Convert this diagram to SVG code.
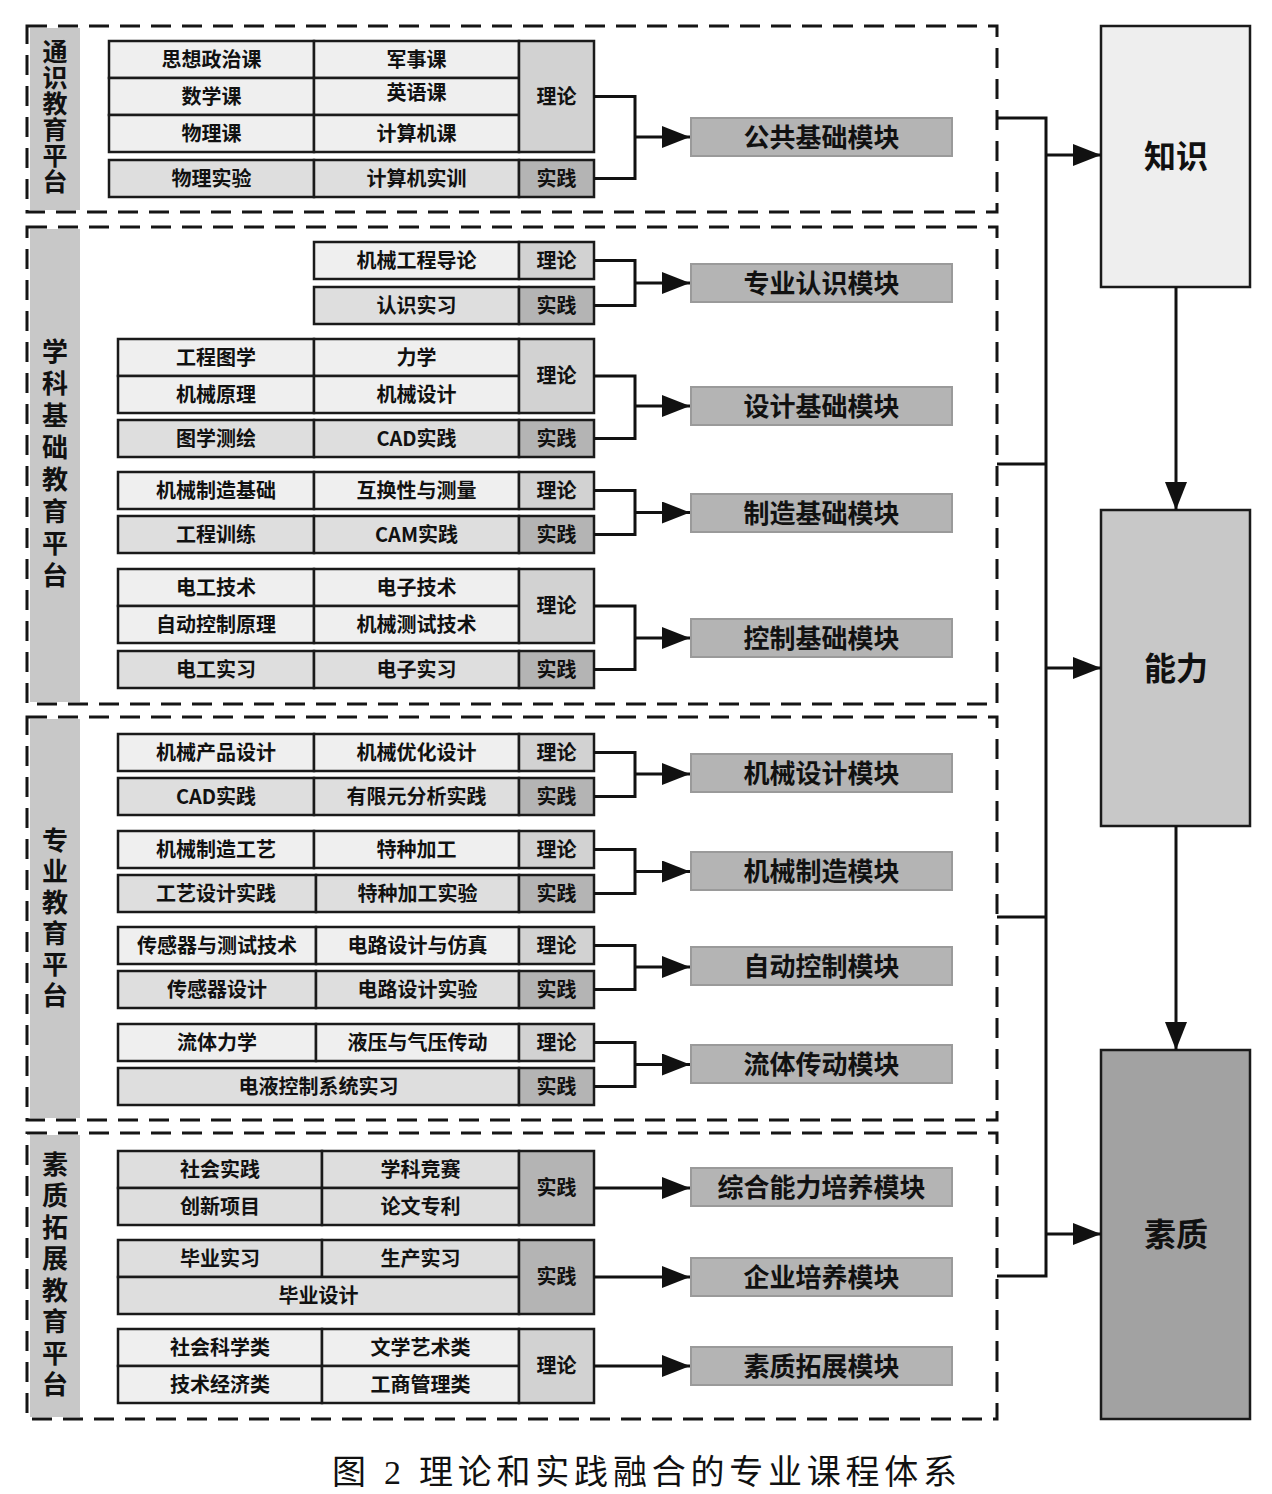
<svg xmlns="http://www.w3.org/2000/svg" width="1272" height="1494" viewBox="0 0 1272 1494">
<defs>
<style>
.bg{fill:#ffffff}
.dash{fill:none;stroke:#151515;stroke-width:3;stroke-dasharray:20 11}
.strip{fill:#c8c8c8}
.ct{fill:#efefef;stroke:#1a1a1a;stroke-width:2.5}
.cp{fill:#dedede;stroke:#1a1a1a;stroke-width:2.5}
.tt{fill:#d2d2d2;stroke:#1a1a1a;stroke-width:2.5}
.tp{fill:#b4b4b4;stroke:#1a1a1a;stroke-width:2.5}
.mod{fill:#b4b4b4;stroke:#9a9a9a;stroke-width:2}
.k1{fill:#eeeeee;stroke:#1a1a1a;stroke-width:2.5}
.k2{fill:#c8c8c8;stroke:#1a1a1a;stroke-width:2.5}
.k3{fill:#a2a2a2;stroke:#1a1a1a;stroke-width:2.5}
text{font-family:"Noto Sans CJK SC","Noto Sans",sans-serif;font-weight:bold;fill:#111;text-anchor:middle;dominant-baseline:central}
.c{font-size:20px}
.m{font-size:26px}
.v{font-size:26px;writing-mode:vertical-rl}
.v1{font-size:25px;writing-mode:vertical-rl}
.b{font-size:32px}
.cap{font-family:"Liberation Serif","Noto Sans CJK SC",serif;font-weight:normal;font-size:34px;dominant-baseline:alphabetic;text-anchor:start}
.ln{fill:none;stroke:#111;stroke-width:3}
</style>
<marker id="ah" markerUnits="userSpaceOnUse" markerWidth="28" markerHeight="22" refX="28" refY="11" orient="auto">
<path d="M0,0 L28,11 L0,22 z" fill="#111"/>
</marker>
</defs>
<rect class="bg" x="0" y="0" width="1272" height="1494"/>

<!-- platforms -->
<g id="platform-tongshi">
<rect class="strip" x="30" y="28" width="50" height="182"/>
<rect class="dash" x="27" y="26" width="970" height="186"/>
<text class="v1" x="55" y="117" letter-spacing="1">通识教育平台</text>
</g>
<g id="platform-xueke">
<rect class="strip" x="30" y="229" width="50" height="473"/>
<rect class="dash" x="27" y="227" width="970" height="477"/>
<text class="v" x="55" y="466" letter-spacing="6">学科基础教育平台</text>
</g>
<g id="platform-zhuanye">
<rect class="strip" x="30" y="719" width="50" height="399"/>
<rect class="dash" x="27" y="717" width="970" height="403"/>
<text class="v" x="55" y="920" letter-spacing="5">专业教育平台</text>
</g>
<g id="platform-suzhi">
<rect class="strip" x="30" y="1135" width="50" height="282"/>
<rect class="dash" x="27" y="1133" width="970" height="286"/>
<text class="v" x="55" y="1277" letter-spacing="5.5">素质拓展教育平台</text>
</g>

<!-- course tables -->
<g id="tbl-gonggong">
<rect class="ct" x="109" y="41" width="205" height="37"/><rect class="ct" x="314" y="41" width="205" height="37"/>
<rect class="ct" x="109" y="78" width="205" height="37"/><rect class="ct" x="314" y="78" width="205" height="37"/>
<rect class="ct" x="109" y="115" width="205" height="37"/><rect class="ct" x="314" y="115" width="205" height="37"/>
<rect class="tt" x="519" y="41" width="75" height="111"/>
<rect class="cp" x="109" y="160" width="205" height="37"/><rect class="cp" x="314" y="160" width="205" height="37"/>
<rect class="tp" x="519" y="160" width="75" height="37"/>
<text class="c" x="211.5" y="58">思想政治课</text><text class="c" x="416.5" y="58">军事课</text>
<text class="c" x="211.5" y="95">数学课</text><text class="c" x="416.5" y="91">英语课</text>
<text class="c" x="211.5" y="132">物理课</text><text class="c" x="416.5" y="132">计算机课</text>
<text class="c" x="556.5" y="95">理论</text>
<text class="c" x="211.5" y="177">物理实验</text><text class="c" x="416.5" y="177">计算机实训</text>
<text class="c" x="556.5" y="177">实践</text>
</g>

<g id="tbl-renshi">
<rect class="ct" x="314" y="242" width="205" height="37"/><rect class="tt" x="519" y="242" width="75" height="37"/>
<rect class="cp" x="314" y="287" width="205" height="37"/><rect class="tp" x="519" y="287" width="75" height="37"/>
<text class="c" x="416.5" y="259">机械工程导论</text><text class="c" x="556.5" y="259">理论</text>
<text class="c" x="416.5" y="304">认识实习</text><text class="c" x="556.5" y="304">实践</text>
</g>

<g id="tbl-sheji">
<rect class="ct" x="118" y="339" width="196" height="37"/><rect class="ct" x="314" y="339" width="205" height="37"/>
<rect class="ct" x="118" y="376" width="196" height="37"/><rect class="ct" x="314" y="376" width="205" height="37"/>
<rect class="tt" x="519" y="339" width="75" height="74"/>
<rect class="cp" x="118" y="420" width="196" height="37"/><rect class="cp" x="314" y="420" width="205" height="37"/>
<rect class="tp" x="519" y="420" width="75" height="37"/>
<text class="c" x="216" y="356">工程图学</text><text class="c" x="416.5" y="356">力学</text>
<text class="c" x="216" y="393">机械原理</text><text class="c" x="416.5" y="393">机械设计</text>
<text class="c" x="556.5" y="374.5">理论</text>
<text class="c" x="216" y="437">图学测绘</text><text class="c" x="416.5" y="437">CAD实践</text>
<text class="c" x="556.5" y="437">实践</text>
</g>

<g id="tbl-zhizao">
<rect class="ct" x="118" y="472" width="196" height="37"/><rect class="ct" x="314" y="472" width="205" height="37"/>
<rect class="tt" x="519" y="472" width="75" height="37"/>
<rect class="cp" x="118" y="516" width="196" height="37"/><rect class="cp" x="314" y="516" width="205" height="37"/>
<rect class="tp" x="519" y="516" width="75" height="37"/>
<text class="c" x="216" y="489">机械制造基础</text><text class="c" x="416.5" y="489">互换性与测量</text><text class="c" x="556.5" y="489">理论</text>
<text class="c" x="216" y="533">工程训练</text><text class="c" x="416.5" y="533">CAM实践</text><text class="c" x="556.5" y="533">实践</text>
</g>

<g id="tbl-kongzhi">
<rect class="ct" x="118" y="569" width="196" height="37"/><rect class="ct" x="314" y="569" width="205" height="37"/>
<rect class="ct" x="118" y="606" width="196" height="37"/><rect class="ct" x="314" y="606" width="205" height="37"/>
<rect class="tt" x="519" y="569" width="75" height="74"/>
<rect class="cp" x="118" y="651" width="196" height="37"/><rect class="cp" x="314" y="651" width="205" height="37"/>
<rect class="tp" x="519" y="651" width="75" height="37"/>
<text class="c" x="216" y="586">电工技术</text><text class="c" x="416.5" y="586">电子技术</text>
<text class="c" x="216" y="623">自动控制原理</text><text class="c" x="416.5" y="623">机械测试技术</text>
<text class="c" x="556.5" y="604.5">理论</text>
<text class="c" x="216" y="668">电工实习</text><text class="c" x="416.5" y="668">电子实习</text>
<text class="c" x="556.5" y="668">实践</text>
</g>

<g id="tbl-jxsheji">
<rect class="ct" x="118" y="734" width="196" height="37"/><rect class="ct" x="314" y="734" width="205" height="37"/>
<rect class="tt" x="519" y="734" width="75" height="37"/>
<rect class="cp" x="118" y="778" width="196" height="37"/><rect class="cp" x="314" y="778" width="205" height="37"/>
<rect class="tp" x="519" y="778" width="75" height="37"/>
<text class="c" x="216" y="751">机械产品设计</text><text class="c" x="416.5" y="751">机械优化设计</text><text class="c" x="556.5" y="751">理论</text>
<text class="c" x="216" y="795">CAD实践</text><text class="c" x="416.5" y="795">有限元分析实践</text><text class="c" x="556.5" y="795">实践</text>
</g>

<g id="tbl-jxzhizao">
<rect class="ct" x="118" y="831" width="196" height="37"/><rect class="ct" x="314" y="831" width="205" height="37"/>
<rect class="tt" x="519" y="831" width="75" height="37"/>
<rect class="cp" x="118" y="875" width="198" height="37"/><rect class="cp" x="316" y="875" width="203" height="37"/>
<rect class="tp" x="519" y="875" width="75" height="37"/>
<text class="c" x="216" y="848">机械制造工艺</text><text class="c" x="416.5" y="848">特种加工</text><text class="c" x="556.5" y="848">理论</text>
<text class="c" x="216" y="892">工艺设计实践</text><text class="c" x="417.5" y="892">特种加工实验</text><text class="c" x="556.5" y="892">实践</text>
</g>

<g id="tbl-zidong">
<rect class="ct" x="118" y="927" width="198" height="37"/><rect class="ct" x="316" y="927" width="203" height="37"/>
<rect class="tt" x="519" y="927" width="75" height="37"/>
<rect class="cp" x="118" y="971" width="198" height="37"/><rect class="cp" x="316" y="971" width="203" height="37"/>
<rect class="tp" x="519" y="971" width="75" height="37"/>
<text class="c" x="217" y="944">传感器与测试技术</text><text class="c" x="417.5" y="944">电路设计与仿真</text><text class="c" x="556.5" y="944">理论</text>
<text class="c" x="217" y="988">传感器设计</text><text class="c" x="417.5" y="988">电路设计实验</text><text class="c" x="556.5" y="988">实践</text>
</g>

<g id="tbl-liuti">
<rect class="ct" x="118" y="1024" width="198" height="37"/><rect class="ct" x="316" y="1024" width="203" height="37"/>
<rect class="tt" x="519" y="1024" width="75" height="37"/>
<rect class="cp" x="118" y="1068" width="401" height="37"/>
<rect class="tp" x="519" y="1068" width="75" height="37"/>
<text class="c" x="217" y="1041">流体力学</text><text class="c" x="417.5" y="1041">液压与气压传动</text><text class="c" x="556.5" y="1041">理论</text>
<text class="c" x="318.5" y="1085">电液控制系统实习</text><text class="c" x="556.5" y="1085">实践</text>
</g>

<g id="tbl-zonghe">
<rect class="cp" x="118" y="1151" width="204" height="37"/><rect class="cp" x="322" y="1151" width="197" height="37"/>
<rect class="cp" x="118" y="1188" width="204" height="37"/><rect class="cp" x="322" y="1188" width="197" height="37"/>
<rect class="tp" x="519" y="1151" width="75" height="74"/>
<text class="c" x="220" y="1168">社会实践</text><text class="c" x="420.5" y="1168">学科竞赛</text>
<text class="c" x="220" y="1205">创新项目</text><text class="c" x="420.5" y="1205">论文专利</text>
<text class="c" x="556.5" y="1186.5">实践</text>
</g>

<g id="tbl-qiye">
<rect class="cp" x="118" y="1240" width="204" height="37"/><rect class="cp" x="322" y="1240" width="197" height="37"/>
<rect class="cp" x="118" y="1277" width="401" height="37"/>
<rect class="tp" x="519" y="1240" width="75" height="74"/>
<text class="c" x="220" y="1257">毕业实习</text><text class="c" x="420.5" y="1257">生产实习</text>
<text class="c" x="318.5" y="1294">毕业设计</text>
<text class="c" x="556.5" y="1275.5">实践</text>
</g>

<g id="tbl-tuozhan">
<rect class="ct" x="118" y="1329" width="204" height="37"/><rect class="ct" x="322" y="1329" width="197" height="37"/>
<rect class="ct" x="118" y="1366" width="204" height="37"/><rect class="ct" x="322" y="1366" width="197" height="37"/>
<rect class="tt" x="519" y="1329" width="75" height="74"/>
<text class="c" x="220" y="1346">社会科学类</text><text class="c" x="420.5" y="1346">文学艺术类</text>
<text class="c" x="220" y="1383">技术经济类</text><text class="c" x="420.5" y="1383">工商管理类</text>
<text class="c" x="556.5" y="1364.5">理论</text>
</g>

<!-- modules -->
<g id="mod-gonggong"><rect class="mod" x="691" y="118" width="261" height="38"/><text class="m" x="821.5" y="135">公共基础模块</text></g>
<g id="mod-renshi"><rect class="mod" x="691" y="264" width="261" height="38"/><text class="m" x="821.5" y="281">专业认识模块</text></g>
<g id="mod-sheji"><rect class="mod" x="691" y="387" width="261" height="38"/><text class="m" x="821.5" y="404">设计基础模块</text></g>
<g id="mod-zhizao"><rect class="mod" x="691" y="494" width="261" height="38"/><text class="m" x="821.5" y="511">制造基础模块</text></g>
<g id="mod-kongzhi"><rect class="mod" x="691" y="619" width="261" height="38"/><text class="m" x="821.5" y="636">控制基础模块</text></g>
<g id="mod-jxsheji"><rect class="mod" x="691" y="754" width="261" height="38"/><text class="m" x="821.5" y="771">机械设计模块</text></g>
<g id="mod-jxzhizao"><rect class="mod" x="691" y="852" width="261" height="38"/><text class="m" x="821.5" y="869">机械制造模块</text></g>
<g id="mod-zidong"><rect class="mod" x="691" y="947" width="261" height="38"/><text class="m" x="821.5" y="964">自动控制模块</text></g>
<g id="mod-liuti"><rect class="mod" x="691" y="1045" width="261" height="38"/><text class="m" x="821.5" y="1062">流体传动模块</text></g>
<g id="mod-zonghe"><rect class="mod" x="691" y="1168" width="261" height="38"/><text class="m" x="821.5" y="1185">综合能力培养模块</text></g>
<g id="mod-qiye"><rect class="mod" x="691" y="1258" width="261" height="38"/><text class="m" x="821.5" y="1275">企业培养模块</text></g>
<g id="mod-tuozhan"><rect class="mod" x="691" y="1347" width="261" height="38"/><text class="m" x="821.5" y="1364">素质拓展模块</text></g>

<!-- outcome boxes -->
<g id="box-zhishi"><rect class="k1" x="1101" y="26" width="149" height="261"/><text class="b" x="1176" y="154">知识</text></g>
<g id="box-nengli"><rect class="k2" x="1101" y="510" width="149" height="316"/><text class="b" x="1176" y="666">能力</text></g>
<g id="box-suzhi"><rect class="k3" x="1101" y="1050" width="149" height="369"/><text class="b" x="1176" y="1232">素质</text></g>

<!-- connectors -->
<g id="connectors">
<path class="ln" d="M594,96.5 H635 V178.5 H594"/>
<path class="ln" d="M635,137 H690" marker-end="url(#ah)"/>
<path class="ln" d="M594,260.5 H635 V305.5 H594"/>
<path class="ln" d="M635,283 H690" marker-end="url(#ah)"/>
<path class="ln" d="M594,376 H635 V438.5 H594"/>
<path class="ln" d="M635,406 H690" marker-end="url(#ah)"/>
<path class="ln" d="M594,490.5 H635 V534.5 H594"/>
<path class="ln" d="M635,512.5 H690" marker-end="url(#ah)"/>
<path class="ln" d="M594,606 H635 V669.5 H594"/>
<path class="ln" d="M635,638 H690" marker-end="url(#ah)"/>
<path class="ln" d="M594,752.5 H635 V796.5 H594"/>
<path class="ln" d="M635,774 H690" marker-end="url(#ah)"/>
<path class="ln" d="M594,849.5 H635 V893.5 H594"/>
<path class="ln" d="M635,871.5 H690" marker-end="url(#ah)"/>
<path class="ln" d="M594,945.5 H635 V989.5 H594"/>
<path class="ln" d="M635,967 H690" marker-end="url(#ah)"/>
<path class="ln" d="M594,1042.5 H635 V1086.5 H594"/>
<path class="ln" d="M635,1064.5 H690" marker-end="url(#ah)"/>
<path class="ln" d="M594,1188 H690" marker-end="url(#ah)"/>
<path class="ln" d="M594,1277 H690" marker-end="url(#ah)"/>
<path class="ln" d="M594,1366 H690" marker-end="url(#ah)"/>
<path class="ln" d="M997,118 H1046 V1276 H997"/>
<path class="ln" d="M997,464 H1046"/>
<path class="ln" d="M997,917 H1046"/>
<path class="ln" d="M1046,155 H1101" marker-end="url(#ah)"/>
<path class="ln" d="M1046,668 H1101" marker-end="url(#ah)"/>
<path class="ln" d="M1046,1234 H1101" marker-end="url(#ah)"/>
<path class="ln" d="M1176,287 V510" marker-end="url(#ah)"/>
<path class="ln" d="M1176,826 V1050" marker-end="url(#ah)"/>
</g>

<text class="cap" x="332" y="1484" textLength="625" lengthAdjust="spacing">图 2 理论和实践融合的专业课程体系</text>
</svg>
